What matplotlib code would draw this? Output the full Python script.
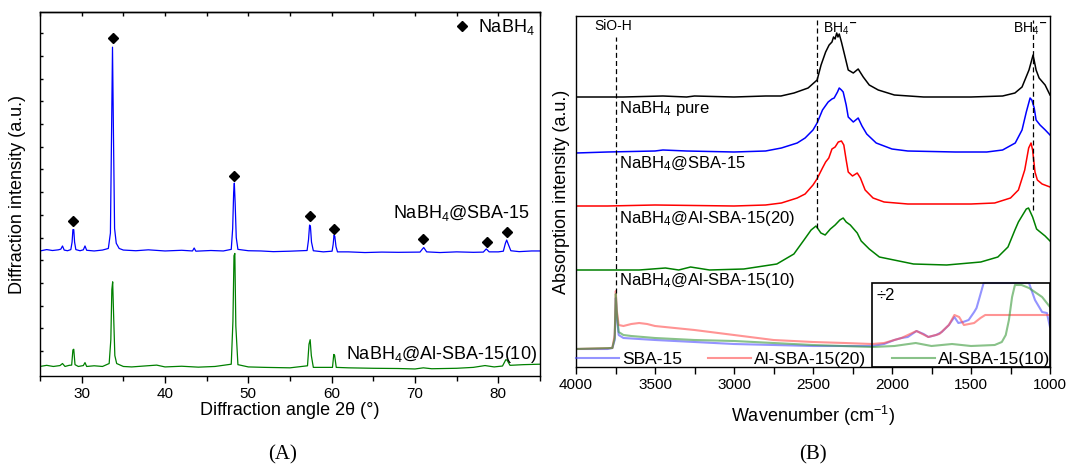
import matplotlib
matplotlib.use("Agg")
import matplotlib.pyplot as plt
from matplotlib.lines import Line2D
from matplotlib.patches import Rectangle
from matplotlib.ticker import MultipleLocator

plt.rcParams["font.family"] = ["Liberation Sans", "DejaVu Sans"]
plt.rcParams["mathtext.fontset"] = "custom"
plt.rcParams["mathtext.rm"] = "Liberation Sans"
plt.rcParams["mathtext.it"] = "Liberation Sans:italic"
plt.rcParams["mathtext.default"] = "regular"

# ---------------- (A) XRD data ----------------
xrd_sba_x = [25.0, 25.8, 26.5, 27.2, 27.5, 27.7, 27.9, 28.3, 28.7, 28.85, 28.95, 29.05, 29.15, 29.3,
             29.8, 30.2, 30.4, 30.6, 31.5, 32.5, 33.2, 33.45, 33.58, 33.7, 33.82, 33.95, 34.15, 34.5,
             35.0, 36.5, 38.0, 40.0, 42.0, 43.3, 43.5, 43.7, 45.5, 47.0, 47.95, 48.12, 48.24, 48.32,
             48.42, 48.55, 48.75, 50.0, 51.5, 53.0, 55.0, 57.05, 57.22, 57.35, 57.45, 57.58, 57.8,
             59.0, 60.05, 60.18, 60.28, 60.38, 60.52, 60.7, 62.0, 64.0, 66.0, 68.0, 70.6, 70.9,
             71.05, 71.4, 73.0, 75.0, 77.0, 78.2, 78.55, 78.9, 80.0, 80.6, 80.85, 81.0, 81.2,
             81.5, 82.5, 84.0, 85.0]
xrd_sba_y = [5.51, 5.57, 5.53, 5.56, 5.59, 5.73, 5.55, 5.52, 5.57, 5.90, 6.45, 6.45, 5.90, 5.57,
             5.52, 5.56, 5.73, 5.54, 5.51, 5.55, 5.62, 6.30, 10.50, 14.49, 10.50, 6.50, 5.85, 5.62,
             5.55, 5.52, 5.56, 5.51, 5.54, 5.51, 5.64, 5.50, 5.53, 5.51, 5.58, 6.50, 8.10, 8.50,
             7.60, 6.10, 5.58, 5.52, 5.51, 5.48, 5.50, 5.53, 6.00, 6.65, 6.60, 5.90, 5.52,
             5.47, 5.50, 5.80, 6.20, 6.15, 5.70, 5.47, 5.47, 5.44, 5.46, 5.45, 5.46, 5.60,
             5.66, 5.47, 5.44, 5.47, 5.45, 5.46, 5.60, 5.47, 5.47, 5.50, 5.85, 5.99, 5.80,
             5.52, 5.48, 5.51, 5.51]

xrd_al10_x = [25.0, 25.8, 26.6, 27.4, 27.7, 28.0, 28.5, 28.8, 28.95, 29.05, 29.2, 29.6, 30.2, 30.4,
              30.6, 31.5, 32.5, 33.3, 33.5, 33.62, 33.72, 33.84, 33.98, 34.2, 35.0, 36.0, 37.5,
              39.0, 40.0, 42.0, 44.0, 46.0, 47.95, 48.15, 48.28, 48.38, 48.5, 48.75, 50.0, 52.0,
              55.0, 57.1, 57.28, 57.42, 57.56, 57.8, 59.0, 60.1, 60.25, 60.35, 60.55, 62.0, 65.0,
              68.0, 70.0, 71.0, 72.0, 75.0, 77.0, 78.4, 79.5, 80.5, 80.9, 81.05, 81.4, 83.0, 85.0]
xrd_al10_y = [0.42, 0.47, 0.42, 0.46, 0.55, 0.42, 0.47, 0.48, 1.15, 1.18, 0.50, 0.42, 0.46, 0.59,
              0.42, 0.45, 0.42, 0.55, 1.60, 3.80, 4.15, 2.60, 0.90, 0.55, 0.42, 0.40, 0.44,
              0.48, 0.40, 0.43, 0.39, 0.42, 0.52, 2.40, 5.30, 5.40, 2.20, 0.50, 0.40, 0.38,
              0.36, 0.45, 1.40, 1.60, 0.90, 0.38, 0.38, 0.38, 0.95, 0.92, 0.38, 0.36, 0.34,
              0.33, 0.31, 0.36, 0.32, 0.34, 0.38, 0.46, 0.40, 0.44, 0.72, 0.70, 0.47, 0.50, 0.52]

nabh4_peak_x = [29.0, 33.7, 48.3, 57.4, 60.3, 71.0, 78.6, 81.0]
nabh4_peak_y = [6.83, 14.89, 8.81, 7.05, 6.48, 6.04, 5.90, 6.34]

# ---------------- (B) FTIR data ----------------
wn_pure = [4000, 3700, 3450, 3300, 3250, 3000, 2800, 2703, 2620, 2531, 2474, 2449, 2420,
           2398, 2380, 2370, 2360, 2350, 2342, 2334, 2320, 2303, 2277, 2245, 2214, 2182,
           2144, 2087, 1985, 1800, 1500, 1300, 1222, 1177, 1133, 1107, 1088, 1069, 1031, 1000]
ab_pure = [270, 270, 271, 270, 271, 270, 271, 271, 274, 279, 287, 302, 315,
           322, 325, 330, 328, 334, 330, 333, 325, 314, 297, 294, 298, 290,
           282, 277, 272, 270, 270, 271, 274, 280, 297, 312, 297, 289, 282, 272]

wn_sba = [4000, 3800, 3500, 3450, 3300, 3000, 2800, 2700, 2600, 2550, 2500, 2474, 2440,
          2404, 2380, 2366, 2345, 2334, 2320, 2309, 2290, 2277, 2245, 2214, 2190, 2160,
          2100, 2000, 1900, 1600, 1400, 1300, 1220, 1177, 1150, 1126, 1115, 1100, 1088,
          1063, 1030, 1000]
ab_sba = [214, 215, 216, 217, 216, 215, 216, 219, 224, 229, 237, 244, 257,
          265, 268, 269, 275, 279, 277, 275, 262, 250, 245, 249, 241, 233,
          224, 218, 216, 215, 215, 217, 224, 237, 255, 269, 267, 259, 247,
          242, 237, 232]

wn_al20 = [4000, 3800, 3500, 3000, 2800, 2700, 2600, 2550, 2500, 2475, 2440, 2420, 2400,
           2380, 2360, 2340, 2320, 2305, 2290, 2277, 2250, 2220, 2200, 2170, 2120, 2050,
           1900, 1500, 1350, 1250, 1200, 1160, 1135, 1120, 1110, 1095, 1080, 1050, 1000]
ab_al20 = [161, 161, 162, 161, 162, 164, 169, 173, 182, 188, 199, 205, 209,
           218, 220, 225, 226, 222, 207, 195, 191, 194, 189, 177, 169, 165,
           163, 163, 164, 169, 177, 197, 219, 224, 217, 195, 187, 183, 180]

wn_al10 = [4000, 3600, 3434, 3350, 3275, 3155, 2938, 2729, 2621, 2557, 2512, 2481, 2450,
           2423, 2390, 2360, 2330, 2309, 2290, 2264, 2220, 2195, 2144, 2080, 1864, 1654,
           1438, 1330, 1266, 1222, 1200, 1177, 1150, 1136, 1110, 1085, 1070, 1031, 1000]
ab_al10 = [97, 97, 99, 97, 100, 97, 98, 103, 113, 127, 137, 141, 134,
           132, 138, 142, 147, 149, 145, 142, 134, 126, 118, 110, 103, 102,
           105, 110, 120, 137, 145, 151, 158, 159, 150, 138, 136, 131, 126]

# supports (bottom, thin lines)
wn_s_sba = [4000, 3800, 3770, 3755, 3748, 3742, 3730, 3700, 3600, 3500, 3250, 3000, 2750,
            2500, 2125, 2050, 1985, 1940, 1900, 1845, 1800, 1770, 1720, 1685, 1640, 1605,
            1580, 1550, 1515, 1480, 1465, 1445, 1420, 1133, 1095, 1050, 1020, 1000]
ab_s_sba = [18, 18, 19, 27, 69, 52, 32, 29, 28, 27, 25, 23, 22,
            21, 21, 23, 27, 29, 30, 36, 33, 30, 32, 35, 42, 50,
            44, 45, 47, 55, 59, 70, 84, 84, 67, 55, 54, 40]

wn_s_al20 = [4000, 3770, 3755, 3748, 3742, 3730, 3700, 3650, 3600, 3550, 3500, 3250, 3000,
             2750, 2500, 2300, 2125, 2050, 1985, 1940, 1845, 1770, 1700, 1640, 1605, 1575,
             1545, 1480, 1440, 1410, 1000]
ab_s_al20 = [18, 19, 32, 76, 57, 42, 41, 43, 44, 43, 41, 37, 32,
             27, 25, 24, 23, 24, 27, 29, 36, 30, 33, 42, 52, 50,
             42, 44, 49, 52, 52]

wn_s_al10 = [4000, 3770, 3755, 3748, 3742, 3730, 3700, 3650, 3500, 3250, 3000, 2750, 2500,
             2125, 1985, 1850, 1750, 1620, 1500, 1350, 1305, 1280, 1260, 1240, 1222, 1180,
             1133, 1050, 1000]
ab_s_al10 = [18, 19, 29, 73, 55, 35, 32, 31, 29, 27, 26, 24, 22,
             20, 21, 24, 21, 23, 21, 22, 25, 32, 47, 70, 82, 82,
             79, 70, 60]

band_wn = [3745, 2475, 1110]
band_top = [330, 347, 347]
band_bottom = [74, 139, 157]

fig = plt.figure(figsize=(10.7, 4.68), dpi=100)

# ---------------- panel A ----------------
axA = fig.add_axes([40 / 1070, 1 - 376 / 468, 500 / 1070, 364 / 468])
axA.plot(xrd_sba_x, xrd_sba_y, color="#0000ff", lw=0.9)
axA.plot(xrd_al10_x, xrd_al10_y, color="#008000", lw=0.9)
axA.plot(nabh4_peak_x, nabh4_peak_y, ls="none", marker="D", ms=4.8, color="black")
axA.set_xlim(25, 85)
axA.set_ylim(0, 16.04)
axA.xaxis.set_major_locator(MultipleLocator(10))
axA.xaxis.set_minor_locator(MultipleLocator(5))
axA.tick_params(axis="x", which="major", direction="out", length=5, width=1, labelsize=11, pad=3)
axA.tick_params(axis="x", which="minor", direction="out", length=3.5, width=1)
axA.set_yticks([1.1 + k for k in range(15)])
axA.set_yticklabels([])
axA.tick_params(axis="y", direction="in", length=2.5, width=1)
top = axA.secondary_xaxis("top")
top.xaxis.set_major_locator(MultipleLocator(5))
top.tick_params(direction="in", length=3, width=1, labeltop=False)
for s in axA.spines.values():
    s.set_linewidth(1.0)
top.spines["top"].set_linewidth(1.0)
axA.set_xlabel("Diffraction angle 2θ (°)", fontsize=13)
axA.set_ylabel("Diffraction intensity (a.u.)", fontsize=13)
axA.xaxis.set_label_coords(0.5, -0.072)
axA.yaxis.set_label_coords(-0.027, 0.5)
axA.text(0.98, 0.448, "NaBH$_4$@SBA-15", transform=axA.transAxes, ha="right", va="center", fontsize=13)
axA.text(0.994, 0.058, "NaBH$_4$@Al-SBA-15(10)", transform=axA.transAxes, ha="right", va="center", fontsize=13)
axA.legend([Line2D([], [], ls="none", marker="D", ms=4.8, color="black")], ["NaBH$_4$"],
           loc="upper right", frameon=False, fontsize=13, handlelength=0.8,
           handletextpad=0.45, borderaxespad=0.1, borderpad=0.2)

# ---------------- panel B ----------------
axB = fig.add_axes([576 / 1070, 1 - 367 / 468, 474 / 1070, 351 / 468])
axB.plot(wn_pure, ab_pure, color="black", lw=1.1)
axB.plot(wn_sba, ab_sba, color="#0000ff", lw=1.1)
axB.plot(wn_al20, ab_al20, color="#ff0000", lw=1.1)
axB.plot(wn_al10, ab_al10, color="#008000", lw=1.1)
l1, = axB.plot(wn_s_sba, ab_s_sba, color="#4d4dff", lw=1.5, alpha=0.6)
l2, = axB.plot(wn_s_al20, ab_s_al20, color="#ff4d4d", lw=1.5, alpha=0.6)
l3, = axB.plot(wn_s_al10, ab_s_al10, color="#3a9a3a", lw=1.5, alpha=0.6)
axB.vlines(band_wn, band_bottom, band_top, colors="black", linestyles=(0, (4, 2.5)), lw=0.9)
axB.add_patch(Rectangle((1000, 0), 1125, 84, fill=False, ec="black", lw=1.2, zorder=3))
axB.text(2095, 72, "÷2", ha="left", va="center", fontsize=12)
axB.set_xlim(4000, 1000)
axB.set_ylim(0, 351)
axB.xaxis.set_major_locator(MultipleLocator(500))
axB.xaxis.set_minor_locator(MultipleLocator(250))
axB.tick_params(axis="x", which="both", direction="out", length=5, width=1, labelsize=11, pad=3)
axB.set_yticks([])
for s in axB.spines.values():
    s.set_linewidth(1.0)
axB.set_xlabel("Wavenumber (cm$^{-1}$)", fontsize=13)
axB.set_ylabel("Absorption intensity (a.u.)", fontsize=13)
axB.xaxis.set_label_coords(0.5, -0.105)
axB.yaxis.set_label_coords(-0.012, 0.5)

label_x = 3727
axB.text(label_x, 259, "NaBH$_4$ pure", ha="left", va="center", fontsize=12)
axB.text(label_x, 203, "NaBH$_4$@SBA-15", ha="left", va="center", fontsize=12)
axB.text(label_x, 149, "NaBH$_4$@Al-SBA-15(20)", ha="left", va="center", fontsize=12)
axB.text(label_x, 86, "NaBH$_4$@Al-SBA-15(10)", ha="left", va="center", fontsize=12)
axB.text(3886, 341, "SiO-H", ha="left", va="center", fontsize=10)
axB.text(2436, 338, "BH$_4$$^{\\mathbf{-}}$", ha="left", va="center", fontsize=10)
axB.text(1232, 338, "BH$_4$$^{\\mathbf{-}}$", ha="left", va="center", fontsize=10)

axB.legend([l1, l2, l3], ["SBA-15", "Al-SBA-15(20)", "Al-SBA-15(10)"], ncol=3,
           loc="lower left", bbox_to_anchor=(0, 0.0, 1, 0.08), mode="expand",
           frameon=False, fontsize=12.5, handlelength=2.5, handletextpad=0.15,
           borderaxespad=0, borderpad=0)

fig.text(283 / 1070, 1 - 455 / 468, "(A)", ha="center", va="center", fontsize=15, family="Liberation Serif")
fig.text(813 / 1070, 1 - 455 / 468, "(B)", ha="center", va="center", fontsize=15, family="Liberation Serif")

fig.savefig("out.png", dpi=100)
